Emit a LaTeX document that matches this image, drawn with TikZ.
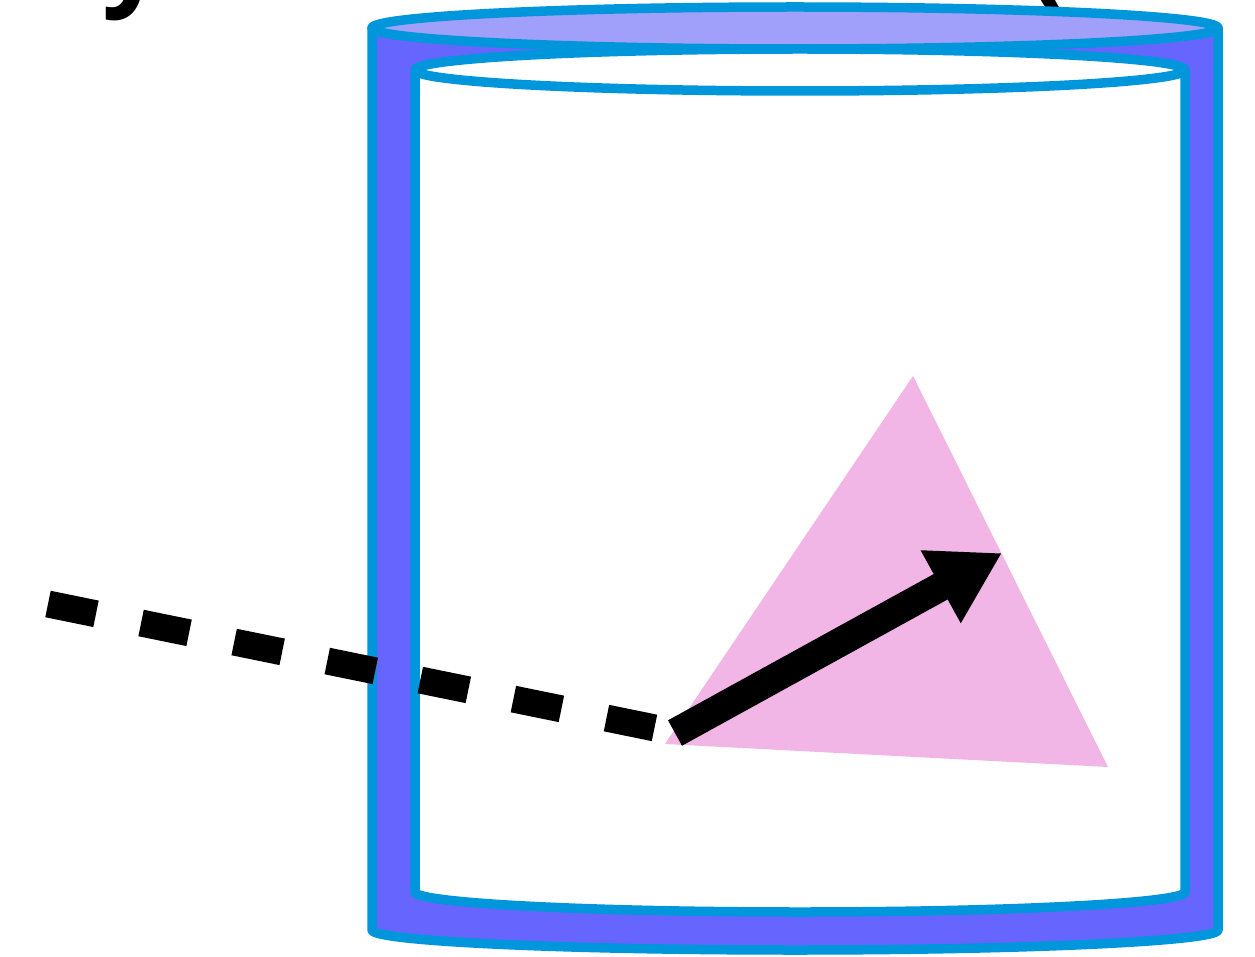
\documentclass[tikz,border=0pt]{standalone}
\usepackage{fontspec}
\setmainfont{Open Sans}
\usetikzlibrary{arrows.meta}
\definecolor{rim}{RGB}{0,150,219}
\definecolor{body}{RGB}{102,102,255}
\definecolor{lid}{RGB}{160,160,250}
\definecolor{tri}{RGB}{242,182,230}
\tikzset{
  rimline/.style={draw=rim,line width=9.5pt,line join=round},
  lbl/.style={font=\bfseries\fontsize{110}{130}\selectfont,inner sep=0pt,anchor=base west},
  ray/.style={line width=27pt},
  vec/.style={line width=29pt,-{Triangle[length=70pt,width=78pt]}}
}
\begin{document}
\begin{tikzpicture}[x=1pt,y=-1pt]
\useasboundingbox (0,0) rectangle (1255,957);
\fill[white] (0,0) rectangle (1255,957);
\begin{scope}
\clip (0,0) rectangle (1255,957);
% cut-off labels at top
\node[lbl] (ly) at (102,-5) {y};
\node[lbl] (lp) at (1028,-5) {(};
% outer cylinder
\path[fill=body,rimline] (372,28) -- (372,930) arc[start angle=180,end angle=360,x radius=423,y radius=-20] -- (1218,28) -- cycle;
\path[fill=lid,rimline] (795,28) ellipse[x radius=423,y radius=21];
% inner cylinder
\path[fill=white,rimline] (415,70) -- (415,892) arc[start angle=180,end angle=360,x radius=385,y radius=-20] -- (1185,70) -- cycle;
\path[fill=white,rimline] (800,70) ellipse[x radius=385,y radius=21];
% triangle
\coordinate (t1) at (913,376);
\coordinate (t2) at (1108,767);
\coordinate (t3) at (665,744);
\fill[tri] (t1) -- (t2) -- (t3) -- cycle;
% dashed ray
\coordinate (r0) at (48,604);
\coordinate (r1) at (655,728);
\draw[ray,dash pattern=on 49pt off 46pt] (r0) -- (r1);
% arrow
\coordinate (a0) at (675,733);
\coordinate (a1) at (1002,553);
\draw[vec] (a0) -- (a1);
\end{scope}
\end{tikzpicture}
\end{document}
